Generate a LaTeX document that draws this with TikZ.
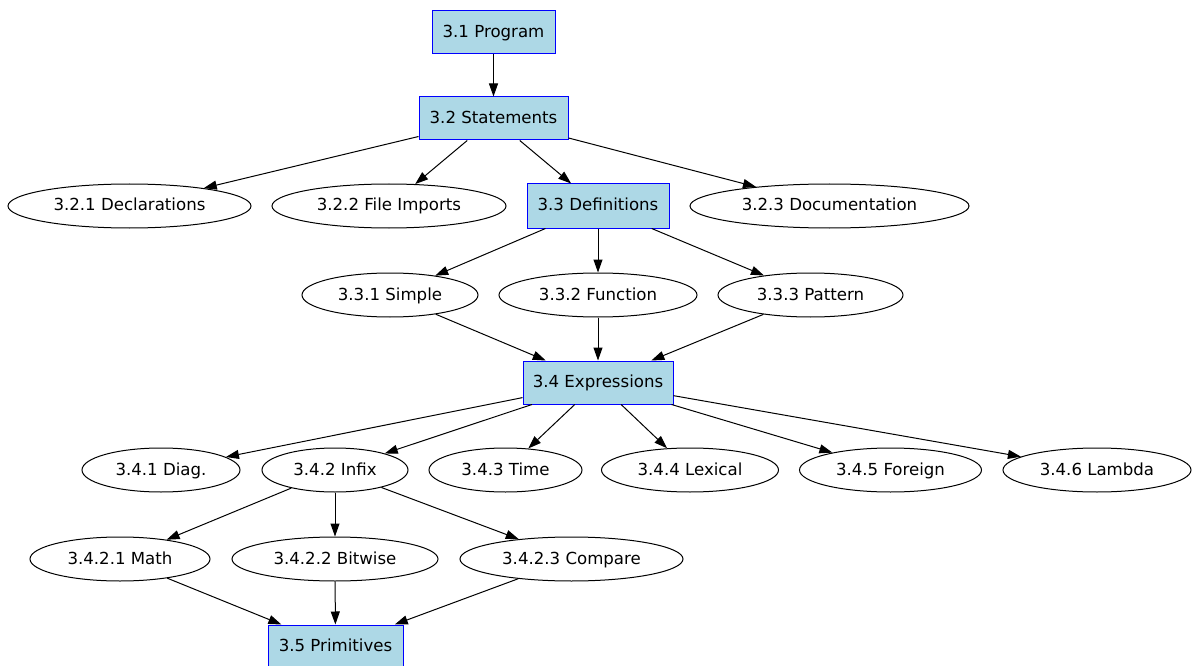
\documentclass[tikz,border=0pt]{standalone}
\usepackage{fontspec}
\setmainfont{DejaVu Sans}
\usetikzlibrary{shapes.geometric,arrows.meta}
\definecolor{boxfill}{HTML}{ADD8E6}
\definecolor{boxline}{HTML}{0000FF}
\begin{document}
\begin{tikzpicture}[x=1pt,y=-1pt,
  every node/.style={font=\fontsize{16.6}{19}\selectfont, inner sep=0pt, text height=13pt, text depth=3pt},
  secbox/.style={rectangle, draw=boxline, fill=boxfill, line width=1pt, minimum height=43pt},
  topic/.style={ellipse, draw=black, line width=1pt, minimum height=44pt},
  edge/.style={draw=black, line width=1pt, -{Triangle[length=13pt,width=9pt]}}
]
\useasboundingbox (0,0) rectangle (1195,666);
% boxes
\node[secbox, minimum width=123pt] (prog) at (493.5,32.5) {3.1 Program};
\node[secbox, minimum width=149pt] (stmt) at (493.5,118.5) {3.2 Statements};
\node[secbox, minimum width=142pt, minimum height=44pt] (defs) at (598,206) {3.3 Definitions};
\node[secbox, minimum width=150pt] (expr) at (598,382.5) {3.4 Expressions};
\node[secbox, minimum width=135pt] (prim) at (335.5,646.5) {3.5 Primitives};
% row 2
\node[topic, minimum width=243pt] (decl) at (129.5,206) {3.2.1 Declarations};
\node[topic, minimum width=234pt] (file) at (389,206) {3.2.2 File Imports};
\node[topic, minimum width=279pt] (docu) at (829.5,206) {3.2.3 Documentation};
% row 3
\node[topic, minimum width=176pt] (simp) at (390,295) {3.3.1 Simple};
\node[topic, minimum width=198pt] (func) at (598,295) {3.3.2 Function};
\node[topic, minimum width=185pt] (patt) at (810.5,295) {3.3.3 Pattern};
% row 5
\node[topic, minimum width=158pt] (diag) at (161,470) {3.4.1 Diag.};
\node[topic, minimum width=146pt] (infx) at (335,470) {3.4.2 Infix};
\node[topic, minimum width=153pt] (time) at (505.5,470) {3.4.3 Time};
\node[topic, minimum width=177pt] (lexi) at (690,470) {3.4.4 Lexical};
\node[topic, minimum width=182pt] (fore) at (890.5,470) {3.4.5 Foreign};
\node[topic, minimum width=188pt] (lamb) at (1097,470) {3.4.6 Lambda};
% row 6
\node[topic, minimum width=180pt] (math) at (120,559) {3.4.2.1 Math};
\node[topic, minimum width=206pt] (bitw) at (335,559) {3.4.2.2 Bitwise};
\node[topic, minimum width=223pt] (comp) at (571.5,559) {3.4.2.3 Compare};
% edges
\draw[edge] (prog) -- (stmt);
\draw[edge] (stmt) -- (decl);
\draw[edge] (stmt) -- (file);
\draw[edge] (stmt) -- (defs);
\draw[edge] (stmt) -- (docu);
\draw[edge] (defs) -- (simp);
\draw[edge] (defs) -- (func);
\draw[edge] (defs) -- (patt);
\draw[edge] (simp) -- (expr);
\draw[edge] (func) -- (expr);
\draw[edge] (patt) -- (expr);
\draw[edge] (expr) -- (diag);
\draw[edge] (expr) -- (infx);
\draw[edge] (expr) -- (time);
\draw[edge] (expr) -- (lexi);
\draw[edge] (expr) -- (fore);
\draw[edge] (expr) -- (lamb);
\draw[edge] (infx) -- (math);
\draw[edge] (infx) -- (bitw);
\draw[edge] (infx) -- (comp);
\draw[edge] (math) -- (prim);
\draw[edge] (bitw) -- (prim);
\draw[edge] (comp) -- (prim);
\end{tikzpicture}
\end{document}
